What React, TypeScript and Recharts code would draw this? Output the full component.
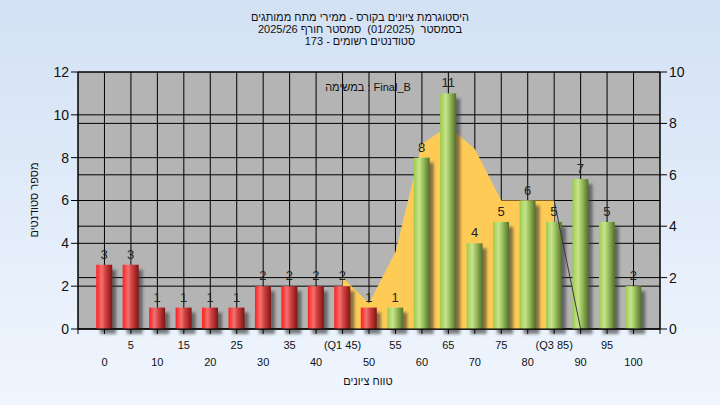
import { ComposedChart, Bar, Area, Line, XAxis, YAxis, CartesianGrid, LabelList } from 'recharts'

const GRADES = [0, 5, 10, 15, 20, 25, 30, 35, 40, 45, 50, 55, 60, 65, 70, 75, 80, 85, 90, 95, 100]
const STUDENTS = [3, 3, 1, 1, 1, 1, 2, 2, 2, 2, 1, 1, 8, 11, 4, 5, 6, 5, 7, 5, 2]
// yellow band between Q1 and Q3, read on the right axis
const IQR_CURVE = [null, null, null, null, null, null, null, null, null, 2, 1, 3, 7.2, 7.9, 7, 5, 5, 5, null, null, null]
const TAIL_CURVE = [null, null, null, null, null, null, null, null, null, null, null, null, null, null, null, null, null, 5, 0, 0, 0]
const X_TICK_LABELS = ['0', '5', '10', '15', '20', '25', '30', '35', '40', '(Q1 45)', '50', '55', '60', '65', '70', '75', '80', '(Q3 85)', '90', '95', '100']
const LEFT_TICKS = [0, 2, 4, 6, 8, 10, 12]
const RIGHT_TICKS = [0, 2, 4, 6, 8, 10]
const PASS_GRADE = 55

const TITLE_LINES = [
  'היסטוגרמת ציונים בקורס - ממירי מתח ממותגים',
  'בסמסטר  (01/2025)  סמסטר חורף 2025/26',
  'סטודנטים רשומים - 173',
]
const TASK_LABEL = 'במשימה : Final_B'
const Y_TITLE = 'מספר סטודנטים'
const X_TITLE = 'טווח ציונים'

const FONT = "'Liberation Sans', Arial, sans-serif"

const data = GRADES.map((g, i) => ({
  grade: g,
  students: STUDENTS[i],
  iqr: IQR_CURVE[i],
  tail: TAIL_CURVE[i],
}))

const xTicks = [-5, ...GRADES, 105]

function GradeTick({ x, y, payload }: any) {
  const i = GRADES.indexOf(payload.value)
  if (i < 0) return <g />
  const upper = i % 2 === 1
  return (
    <text x={x} y={y + (upper ? 13 : 30)} textAnchor="middle" fontSize={11} fill="#111">
      {X_TICK_LABELS[i]}
    </text>
  )
}

function CylinderBar(props: any) {
  const { x, y, width, height, payload } = props
  if (!height || height <= 0) return <g />
  const fill = payload.grade < PASS_GRADE ? 'url(#barRed)' : 'url(#barGreen)'
  return (
    <g>
      <rect x={x + 4} y={y + 5} width={width} height={height} fill="#333" opacity={0.6} filter="url(#barShadow)" />
      <rect x={x} y={y} width={width} height={height} fill={fill} />
    </g>
  )
}

export default function App() {
  return (
    <div
      style={{
        position: 'fixed',
        left: 0,
        top: 0,
        width: 720,
        height: 405,
        background: 'linear-gradient(to bottom, #D3E1F4, #F0F6FE)',
        fontFamily: FONT,
      }}
    >
      <svg width={0} height={0} style={{ position: 'absolute' }}>
        <defs>
          <linearGradient id="barRed" x1="0" y1="0" x2="1" y2="0">
            <stop offset="0" stopColor="#FF1E1E" />
            <stop offset="0.35" stopColor="#F27272" />
            <stop offset="0.55" stopColor="#D84444" />
            <stop offset="1" stopColor="#7E1414" />
          </linearGradient>
          <linearGradient id="barGreen" x1="0" y1="0" x2="1" y2="0">
            <stop offset="0" stopColor="#9CCB4A" />
            <stop offset="0.35" stopColor="#C6E48E" />
            <stop offset="0.55" stopColor="#A3C664" />
            <stop offset="1" stopColor="#52702A" />
          </linearGradient>
          <filter id="barShadow" x="-50%" y="-10%" width="200%" height="130%">
            <feGaussianBlur stdDeviation="1.5" />
          </filter>
        </defs>
      </svg>
      <ComposedChart
        width={720}
        height={405}
        data={data}
        margin={{ top: 72, right: 20, left: 38, bottom: 36 }}
        style={{ fontFamily: FONT }}
      >
        <CartesianGrid yAxisId="left" stroke="#000" fill="#B4B4B4" fillOpacity={1} />
        <CartesianGrid yAxisId="right" vertical={false} stroke="#000" />
        <XAxis
          dataKey="grade"
          type="number"
          domain={[-5, 105]}
          ticks={xTicks}
          interval={0}
          height={40}
          tick={<GradeTick />}
          tickSize={5}
          tickMargin={2}
          axisLine={{ stroke: '#000' }}
          tickLine={{ stroke: '#000' }}
        />
        <YAxis
          yAxisId="left"
          domain={[0, 12]}
          ticks={LEFT_TICKS}
          interval={0}
          width={40}
          tick={{ fill: '#111', fontSize: 14 }}
          tickSize={7}
          tickMargin={2}
          axisLine={{ stroke: '#000' }}
          tickLine={{ stroke: '#000' }}
        />
        <YAxis
          yAxisId="right"
          orientation="right"
          domain={[0, 10]}
          ticks={RIGHT_TICKS}
          interval={0}
          width={40}
          tick={{ fill: '#111', fontSize: 14 }}
          tickSize={7}
          tickMargin={2}
          axisLine={{ stroke: '#000' }}
          tickLine={{ stroke: '#000' }}
        />
        <Area
          yAxisId="right"
          dataKey="iqr"
          type="linear"
          fill="#FFCB57"
          fillOpacity={1}
          stroke="none"
          dot={false}
          activeDot={false}
          isAnimationActive={false}
        />
        <Line
          yAxisId="right"
          dataKey="tail"
          type="linear"
          stroke="#3a3a3a"
          strokeWidth={1}
          dot={false}
          activeDot={false}
          isAnimationActive={false}
        />
        <Bar yAxisId="left" dataKey="students" barSize={16} shape={<CylinderBar />} isAnimationActive={false}>
          <LabelList dataKey="students" position="top" offset={6} fill="#222" fontSize={13} />
        </Bar>
      </ComposedChart>
      <svg
        width={720}
        height={405}
        style={{ position: 'absolute', left: 0, top: 0, pointerEvents: 'none', fontFamily: FONT }}
      >
        {TITLE_LINES.map((t, i) => (
          <text
            key={i}
            x={360}
            y={20.5 + i * 12}
            textAnchor="middle"
            direction="rtl"
            fontSize={11}
            fill="#111"
            style={{ whiteSpace: 'pre' }}
          >
            {t}
          </text>
        ))}
        <text x={368} y={90.5} textAnchor="middle" fontSize={11} fill="#111">
          {TASK_LABEL}
        </text>
        <text x={38} y={200} transform="rotate(-90 38 200)" textAnchor="middle" fontSize={11} fill="#111">
          {Y_TITLE}
        </text>
        <text x={368} y={385} textAnchor="middle" fontSize={11} fill="#111">
          {X_TITLE}
        </text>
      </svg>
    </div>
  )
}
